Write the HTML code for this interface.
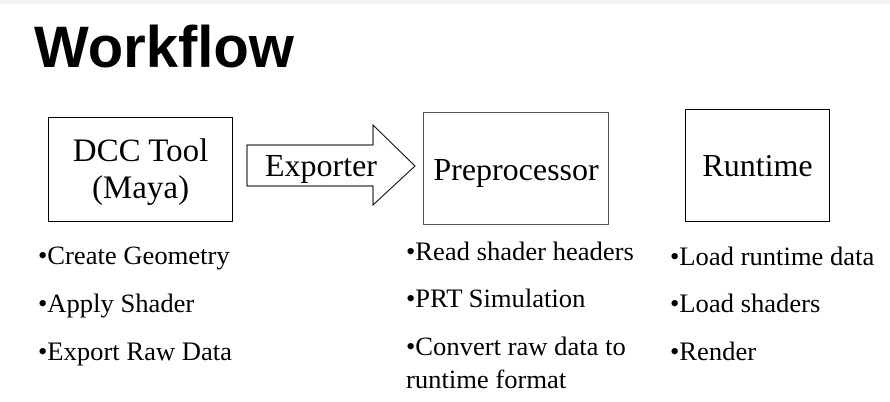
<!DOCTYPE html>
<html><head><style>
body{margin:0;width:890px;height:402px;background:#fff;position:relative;overflow:hidden;font-family:"Liberation Serif",serif;color:#000}
.t{position:absolute;white-space:nowrap;line-height:1}
.b{position:absolute;border:1.5px solid #000;box-sizing:border-box}
.s{font-size:32px}
.l{font-size:26.6px}
</style></head><body>
<div style="position:absolute;left:0;top:0;width:890px;height:4px;background:#f4f4f4"></div>
<div class="t" style="left:34px;top:19px;font-family:'Liberation Sans',sans-serif;font-weight:bold;font-size:58px">Workflow</div>
<div class="b" style="left:48px;top:117px;width:185px;height:105px"></div>
<div class="b" style="left:423px;top:112px;width:186px;height:113px;border-color:#555"></div>
<div class="b" style="left:685px;top:109px;width:145px;height:113px"></div>
<svg style="position:absolute;left:0;top:0" width="890" height="402"><polygon points="247,145 373,145 373,125 415,166 373,205 373,186 247,186" fill="#fff" stroke="#000" stroke-width="1"/></svg>
<div class="t s" style="left:48px;width:185px;text-align:center;top:135px;font-size:33px">DCC Tool</div>
<div class="t s" style="left:48px;width:185px;text-align:center;top:172px;font-size:33px">(Maya)</div>
<div class="t s" style="left:265px;top:149px">Exporter</div>
<div class="t s" style="left:423px;width:186px;text-align:center;top:153px">Preprocessor</div>
<div class="t s" style="left:685px;width:145px;text-align:center;top:149px">Runtime</div>
<div class="t l" style="left:38px;top:242px">•Create Geometry</div>
<div class="t l" style="left:38px;top:290px">•Apply Shader</div>
<div class="t l" style="left:38px;top:338px">•Export Raw Data</div>
<div class="t l" style="left:406px;top:238px">•Read shader headers</div>
<div class="t l" style="left:406px;top:285px">•PRT Simulation</div>
<div class="t l" style="left:406px;top:333px">•Convert raw data to</div>
<div class="t l" style="left:406px;top:366px">runtime format</div>
<div class="t l" style="left:670px;top:243px">•Load runtime data</div>
<div class="t l" style="left:670px;top:290px">•Load shaders</div>
<div class="t l" style="left:670px;top:338px">•Render</div>
</body></html>
